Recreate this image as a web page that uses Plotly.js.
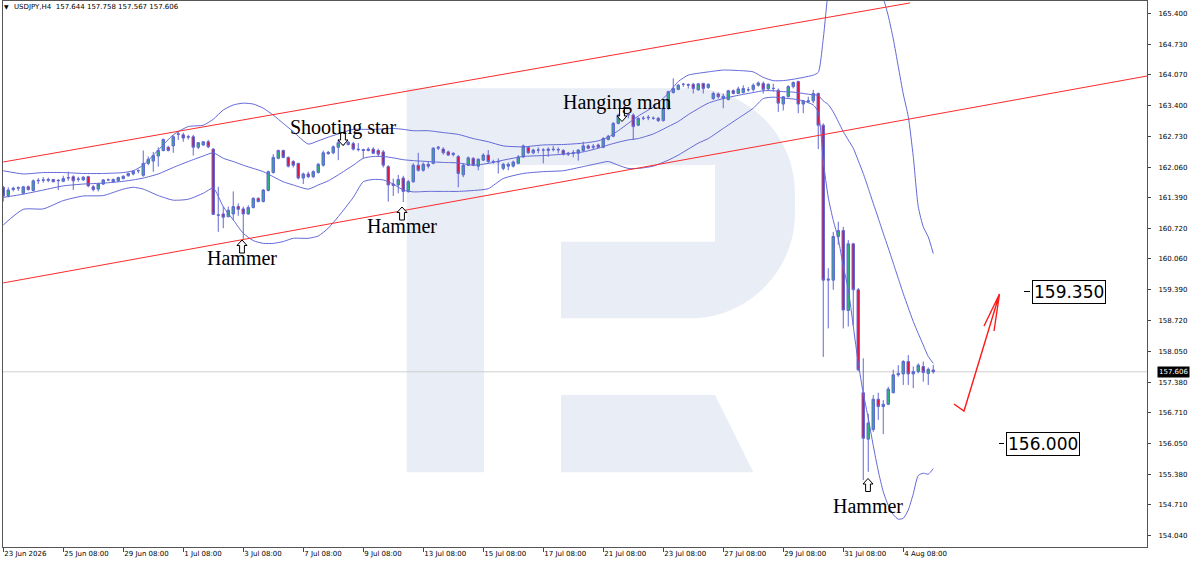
<!DOCTYPE html>
<html><head><meta charset="utf-8">
<script src="https://cdn.plot.ly/plotly-3.0.1.min.js"></script>
<style>html,body{margin:0;padding:0;background:#fff}#chart{width:1200px;height:561px}</style>
</head><body><div id="chart"></div>
<script>
// ---- data (USDJPY H4) ----
const symbolName = 'USDJPY,H4';
const opens = [
161.62,161.44,161.57,161.60,161.49,161.63,161.55,161.76,161.77,161.77,
161.79,161.76,161.75,161.82,161.85,161.79,161.78,161.85,161.63,161.58,
161.69,161.78,161.74,161.76,161.81,161.87,161.91,161.98,161.88,162.14,
162.19,162.30,162.42,162.49,162.52,162.77,162.76,162.71,162.72,162.49,
162.54,162.61,162.45,161.01,161.04,160.98,161.04,161.20,161.15,161.04,
161.18,161.38,161.31,161.55,161.94,162.25,162.42,162.27,162.18,162.14,
161.82,161.91,161.85,161.94,162.10,162.35,162.37,162.49,162.58,162.55,
162.57,162.45,162.44,162.42,162.45,162.42,162.39,162.07,161.69,161.67,
161.82,161.53,161.74,162.10,161.99,162.12,162.14,162.47,162.45,162.39,
162.33,162.29,161.89,162.10,162.25,162.08,162.21,162.32,162.18,162.17,
162.03,162.08,162.08,162.14,162.28,162.49,162.37,162.43,162.43,162.42,
162.45,162.43,162.42,162.34,162.36,162.36,162.42,162.52,162.49,162.54,
162.49,162.66,162.73,163.01,163.19,163.19,163.19,162.97,163.12,163.13,
163.12,163.12,163.07,163.34,163.68,163.75,163.86,163.84,163.86,163.74,
163.88,163.79,163.55,163.65,163.55,163.53,163.72,163.66,163.68,163.74,
163.75,163.84,163.88,163.76,163.77,163.73,163.43,163.59,163.81,163.92,
163.43,163.48,163.50,163.66,162.97,159.60,159.60,160.55,160.68,158.94,
160.39,159.39,157.15,156.14,156.35,157.01,156.85,156.90,157.15,157.54,
157.56,157.83,157.56,157.61,157.72,157.57,157.644];
const highs = [
161.65,161.62,161.63,161.64,161.65,161.66,161.79,161.82,161.84,161.83,
161.80,161.80,161.87,161.96,161.88,161.85,161.86,161.87,161.67,161.72,
161.80,161.81,161.81,161.85,161.88,161.94,161.99,162.01,162.42,162.29,
162.39,162.49,162.68,162.52,162.75,162.85,162.81,162.76,162.76,162.60,
162.62,162.65,162.47,161.63,161.20,161.20,161.53,161.27,161.20,161.23,
161.40,161.40,161.58,161.98,162.34,162.44,162.44,162.29,162.21,162.15,
161.94,161.96,161.99,162.15,162.42,162.41,162.53,162.66,162.72,162.62,
162.61,162.58,162.46,162.49,162.49,162.46,162.43,162.10,161.81,161.89,
161.87,161.78,162.14,162.37,162.16,162.18,162.49,162.52,162.49,162.42,
162.38,162.32,162.14,162.29,162.27,162.25,162.36,162.43,162.22,162.25,
162.15,162.16,162.20,162.32,162.55,162.51,162.46,162.49,162.47,162.49,
162.52,162.49,162.45,162.39,162.43,162.45,162.61,162.55,162.56,162.57,
162.71,162.76,163.04,163.22,163.30,163.23,163.23,163.14,163.17,163.19,
163.16,163.15,163.36,163.72,163.99,163.87,163.89,163.88,163.89,163.89,
163.89,163.88,163.70,163.68,163.66,163.74,163.75,163.81,163.84,163.80,
163.88,163.92,163.92,163.88,163.87,163.77,163.60,163.84,163.92,163.94,
163.52,163.59,163.74,163.68,163.01,159.86,160.65,160.87,160.76,160.47,
160.41,159.43,157.90,156.69,157.10,157.15,156.99,157.28,157.65,157.75,
157.86,157.97,157.72,157.79,157.83,157.70,157.758];
const lows = [
161.31,161.40,161.53,161.54,161.47,161.55,161.53,161.69,161.72,161.73,
161.73,161.56,161.73,161.76,161.56,161.74,161.76,161.62,161.53,161.53,
161.67,161.76,161.71,161.74,161.79,161.85,161.88,161.92,161.85,162.10,
161.96,162.07,162.40,162.40,162.37,162.65,162.61,162.66,162.31,162.45,
162.52,162.47,161.02,160.65,160.73,160.97,160.91,161.00,160.47,161.02,
161.16,161.29,161.29,161.53,161.92,162.23,162.25,162.05,162.05,161.79,
161.69,161.82,161.82,161.92,162.07,162.33,162.34,162.21,162.52,162.53,
162.42,162.40,162.25,162.40,162.34,162.29,162.05,161.31,161.43,161.49,
161.30,161.50,161.72,161.96,161.96,162.03,162.12,162.43,162.33,162.30,
162.29,161.62,161.84,162.08,162.08,161.99,162.19,162.14,162.13,161.92,
161.99,161.99,162.05,162.12,162.26,162.35,162.34,162.36,162.14,162.28,
162.40,162.36,162.31,162.30,162.27,162.20,162.39,162.45,162.44,162.47,
162.47,162.64,162.71,162.99,163.08,163.12,162.65,162.95,163.08,163.08,
163.09,163.04,163.05,163.30,163.66,163.73,163.80,163.77,163.66,163.72,
163.66,163.76,163.52,163.55,163.34,163.51,163.64,163.65,163.66,163.70,
163.70,163.81,163.66,163.72,163.70,163.26,163.29,163.57,163.77,163.23,
163.23,163.45,163.45,162.45,157.93,158.55,159.39,160.37,158.55,158.59,
158.62,157.62,155.25,155.43,156.30,156.56,156.25,156.88,157.14,157.50,
157.32,157.32,157.25,157.57,157.39,157.32,157.567];
const closes = [
161.43,161.56,161.60,161.61,161.63,161.57,161.76,161.77,161.78,161.79,
161.74,161.77,161.81,161.83,161.76,161.80,161.84,161.65,161.57,161.69,
161.78,161.78,161.79,161.83,161.86,161.92,161.97,161.98,162.14,162.23,
162.31,162.42,162.66,162.42,162.72,162.78,162.69,162.72,162.49,162.59,
162.61,162.50,161.03,161.02,160.97,161.12,161.20,161.14,161.04,161.18,
161.38,161.31,161.56,161.96,162.27,162.42,162.27,162.08,162.10,161.82,
161.91,161.85,161.96,162.12,162.37,162.38,162.50,162.59,162.55,162.60,
162.45,162.44,162.42,162.45,162.36,162.34,162.10,161.67,161.66,161.79,
161.53,161.74,162.10,161.99,162.12,162.08,162.47,162.49,162.37,162.32,
162.36,161.92,162.10,162.26,162.10,162.23,162.32,162.18,162.17,162.18,
162.12,162.12,162.17,162.28,162.52,162.37,162.43,162.43,162.43,162.45,
162.44,162.44,162.34,162.36,162.37,162.43,162.52,162.47,162.51,162.49,
162.68,162.73,163.01,163.19,163.16,163.20,162.94,163.12,163.12,163.14,
163.12,163.07,163.34,163.70,163.77,163.84,163.86,163.85,163.77,163.87,
163.77,163.86,163.66,163.59,163.60,163.72,163.66,163.76,163.77,163.74,
163.84,163.89,163.75,163.86,163.77,163.45,163.59,163.81,163.90,163.43,
163.50,163.50,163.66,162.97,159.60,159.62,160.55,160.68,158.95,160.39,
159.39,157.65,156.16,156.49,157.01,156.85,156.90,157.23,157.54,157.57,
157.83,157.56,157.61,157.75,157.59,157.66,157.606];

const bbIdx = [0,4,8,12,16,20,24,26,28,31,34,37,40,42,44,46,48,50,52,54,
56,58,61,63,65,67,70,72,74,76,78,80,82,85,88,91,94,97,100,104,
108,112,116,119,121,123,125,127,130,133,135,137,139,141,144,147,150,152,154,156,
158,160,162,163,164,165,166,167,168,169,170,171,172,173,174,175,176,177,178,179,
180,181,182,183,184,185,186];
const bbUpper = [161.98,161.91,161.94,161.94,161.92,161.92,161.94,161.98,162.10,162.43,
162.76,162.94,162.97,163.10,163.30,163.41,163.45,163.43,163.34,163.19,
163.01,162.83,162.56,162.63,162.71,162.78,162.88,162.88,162.88,162.89,
162.90,162.88,162.85,162.85,162.81,162.77,162.68,162.61,162.52,162.50,
162.54,162.55,162.58,162.63,162.71,162.85,163.01,163.17,163.37,163.66,
163.92,164.06,164.10,164.13,164.17,164.16,164.13,164.01,163.94,163.94,
163.97,164.01,164.06,164.12,164.85,165.90,166.50,166.95,167.25,167.45,
167.55,167.50,167.35,167.05,166.70,166.25,165.75,165.35,164.85,164.25,
163.65,163.16,162.29,161.20,160.76,160.54,160.18];
const bbMiddle = [161.40,161.47,161.56,161.65,161.69,161.71,161.75,161.78,161.82,161.91,
162.05,162.18,162.30,162.37,162.25,162.18,162.10,162.03,161.96,161.85,
161.74,161.67,161.58,161.67,161.76,161.89,162.10,162.25,162.29,162.29,
162.26,162.22,162.20,162.18,162.16,162.15,162.10,162.14,162.21,162.29,
162.31,162.34,162.39,162.47,162.54,162.60,162.65,162.68,162.78,162.94,
163.05,163.20,163.33,163.45,163.55,163.62,163.68,163.72,163.72,163.70,
163.69,163.66,163.63,163.62,163.50,163.42,163.26,163.05,162.83,162.65,
162.47,162.20,161.92,161.60,161.27,160.95,160.62,160.30,159.97,159.64,
159.31,159.00,158.70,158.44,158.19,157.94,157.79];
const bbLower = [160.80,161.14,161.15,161.33,161.43,161.44,161.58,161.62,161.58,161.44,
161.34,161.36,161.49,161.60,161.20,160.91,160.62,160.46,160.40,160.40,
160.44,160.51,160.51,160.56,160.73,160.98,161.40,161.74,161.79,161.78,
161.69,161.56,161.52,161.53,161.53,161.53,161.55,161.59,161.81,161.92,
161.96,161.98,162.07,162.14,162.18,162.10,162.03,162.03,162.08,162.21,
162.32,162.45,162.58,162.68,162.90,163.12,163.34,163.55,163.58,163.56,
163.54,163.50,163.41,163.26,162.20,161.40,160.90,160.50,159.90,159.40,
158.60,157.80,157.14,156.60,156.00,155.45,155.00,154.70,154.50,154.40,
154.42,154.60,154.95,155.35,155.40,155.38,155.50];

const tickBars = [0,12,24,36,48,60,72,84,96,108,120,132,144,156,168,180];
const tickLabels = ['23 Jun 2026','25 Jun 08:00','29 Jun 08:00','1 Jul 08:00','3 Jul 08:00',
'7 Jul 08:00','9 Jul 08:00','13 Jul 08:00','15 Jul 08:00','17 Jul 08:00','21 Jul 08:00',
'23 Jul 08:00','27 Jul 08:00','29 Jul 08:00','31 Jul 08:00','4 Aug 08:00'];
const priceTicks = [165.400,164.730,164.070,163.400,162.730,162.060,161.390,160.720,160.060,
159.390,158.720,158.050,157.380,156.710,156.050,155.380,154.710,154.040];

// channel lines [bar, price]
const channelUpper = [[0,162.17],[181.35,165.63]];
const channelLower = [[0,159.54],[228.75,164.04]];
// target levels
const levelLabels = ['159.350','156.000'];
const patternNames = ['Hammer','Shooting star','Hammer','Hanging man','Hammer'];

// ---- layout helpers (pixel -> paper) ----
const L0 = 3, T0 = 1, PW = 1144, PH = 546;
const px = X => (X - L0) / PW;
const py = Y => 1 - (Y - T0) / PH;
const P = (X, Y) => px(X).toFixed(5) + ',' + py(Y).toFixed(5);

const idx = opens.map((_, i) => i);
const lastI = opens.length - 1;
const bandColor = 'rgb(98,104,214)';
const serif = {family: 'Liberation Serif, Times New Roman, serif', size: 20, color: '#000'};

const traces = [
  {type: 'candlestick', x: idx, open: opens, high: highs, low: lows, close: closes,
   increasing: {line: {color: bandColor, width: 1}, fillcolor: '#2eb07a'},
   decreasing: {line: {color: bandColor, width: 1}, fillcolor: '#dc143c'},
   whiskerwidth: 0, hoverinfo: 'skip', showlegend: false},
  {type: 'scatter', mode: 'lines', x: bbIdx, y: bbUpper, line: {color: bandColor, width: 1, shape: 'spline', smoothing: 0.6}, hoverinfo: 'skip', showlegend: false},
  {type: 'scatter', mode: 'lines', x: bbIdx, y: bbMiddle, line: {color: bandColor, width: 1, shape: 'spline', smoothing: 0.6}, hoverinfo: 'skip', showlegend: false},
  {type: 'scatter', mode: 'lines', x: bbIdx, y: bbLower, line: {color: bandColor, width: 1, shape: 'spline', smoothing: 0.6}, hoverinfo: 'skip', showlegend: false}
];

// hollow block arrow (MT4 style) centred at (cx, cy), dir = -1 up, +1 down
function blockArrow(cx, cy, dir) {
  const pts = [[0,-6.5],[5,-1],[2.4,-1],[2.4,6.5],[-2.4,6.5],[-2.4,-1],[-5,-1]];
  const d = pts.map((p, k) => (k ? 'L' : 'M') + P(cx + p[0], cy + (dir < 0 ? p[1] : -p[1]))).join('') + 'Z';
  return {type: 'path', xref: 'paper', yref: 'paper', path: d, fillcolor: '#fff', line: {color: '#000', width: 1}};
}

const logoColor = '#e9edf5';
const shapes = [
  {type: 'path', xref: 'paper', yref: 'paper', layer: 'below', fillcolor: logoColor, line: {width: 0},
   path: 'M' + P(406.7,472.3) + 'L' + P(406.7,88.3) + 'L' + P(690,88.3) + 'C' + P(748,88.3) + ' ' + P(795,135.3) + ' ' + P(795,193.3) +
         'L' + P(795,213) + 'C' + P(795,271) + ' ' + P(748,318.3) + ' ' + P(690,318.3) + 'L' + P(561,318.3) + 'L' + P(561,241.7) +
         'L' + P(715,241.7) + 'L' + P(715,165) + 'L' + P(484,165) + 'L' + P(484,472.3) + 'Z'},
  {type: 'path', xref: 'paper', yref: 'paper', layer: 'below', fillcolor: logoColor, line: {width: 0},
   path: 'M' + P(561,395) + 'L' + P(715,395) + 'L' + P(753.3,472.3) + 'L' + P(561,472.3) + 'Z'},
  // bid line
  {type: 'line', xref: 'paper', yref: 'y', x0: 0, x1: 1, y0: closes[lastI], y1: closes[lastI], layer: 'below', line: {color: '#cfcfcf', width: 1}},
  // channel
  {type: 'line', xref: 'x', yref: 'y', x0: channelUpper[0][0], y0: channelUpper[0][1], x1: channelUpper[1][0], y1: channelUpper[1][1], line: {color: '#ff2a2a', width: 1}},
  {type: 'line', xref: 'x', yref: 'y', x0: channelLower[0][0], y0: channelLower[0][1], x1: channelLower[1][0], y1: channelLower[1][1], line: {color: '#ff2a2a', width: 1}},
  // forecast arrow
  {type: 'path', xref: 'paper', yref: 'paper', fillcolor: 'rgba(0,0,0,0)', line: {color: '#ff1a1a', width: 1.4},
   path: 'M' + P(954,404) + 'L' + P(964,411) + 'L' + P(999.5,294) + 'M' + P(984,326) + 'L' + P(999.5,294) + 'L' + P(994,331)},
  // level ticks
  {type: 'line', xref: 'paper', yref: 'paper', x0: px(1024), x1: px(1030), y0: py(291.5), y1: py(291.5), line: {color: '#000', width: 1}},
  {type: 'line', xref: 'paper', yref: 'paper', x0: px(999), x1: px(1004), y0: py(443.5), y1: py(443.5), line: {color: '#000', width: 1}},
  // pattern arrows
  blockArrow(242, 246.5, -1),
  blockArrow(343, 139, 1),
  blockArrow(402, 213.5, -1),
  blockArrow(622, 115, 1),
  blockArrow(868, 485, -1)
];

function txt(text, X, Y, font, extra) {
  return Object.assign({text: text, xref: 'paper', yref: 'paper', x: px(X), y: py(Y), xanchor: 'center', yanchor: 'middle', showarrow: false, font: font}, extra || {});
}
const annotations = [
  txt('<b>\u25BC</b>', 6, 7, {family: 'DejaVu Sans', size: 6, color: '#000'}),
  txt(symbolName + '  ' + opens[lastI].toFixed(3) + ' ' + highs[lastI].toFixed(3) + ' ' + lows[lastI].toFixed(3) + ' ' + closes[lastI].toFixed(3),
      12, 7, {family: 'DejaVu Sans', size: 7, color: '#000'}, {xanchor: 'left'}),
  txt(patternNames[0], 242, 258, serif),
  txt(patternNames[1], 343, 127, serif),
  txt(patternNames[2], 402, 226, serif),
  txt(patternNames[3], 617, 102, serif),
  txt(patternNames[4], 868, 506, serif),
  txt(levelLabels[0], 1068.5, 292, {family: 'DejaVu Sans', size: 17, color: '#000'}, {bgcolor: '#fff', bordercolor: '#000', borderwidth: 1, borderpad: 1}),
  txt(levelLabels[1], 1042.5, 443.5, {family: 'DejaVu Sans', size: 17, color: '#000'}, {bgcolor: '#fff', bordercolor: '#000', borderwidth: 1, borderpad: 1}),
  {text: closes[lastI].toFixed(3), xref: 'paper', yref: 'y', x: 1, y: closes[lastI], xanchor: 'left', yanchor: 'middle', xshift: 10,
   showarrow: false, bgcolor: '#000', font: {family: 'DejaVu Sans', size: 7, color: '#fff'}, borderpad: 1}
];

const axisFont = {family: 'DejaVu Sans', size: 7, color: '#000'};
const layout = {
  width: 1200, height: 561,
  margin: {l: L0, r: 1200 - L0 - PW, t: T0, b: 561 - T0 - PH, pad: 0},
  paper_bgcolor: '#fff', plot_bgcolor: 'rgba(0,0,0,0)',
  showlegend: false, dragmode: false,
  xaxis: {range: [-0.05, 228.75], tickmode: 'array', tickvals: tickBars, ticktext: tickLabels,
          ticks: 'outside', ticklen: 4, tickcolor: '#444', tickfont: axisFont, ticklabelposition: 'outside right',
          showline: true, mirror: true, linecolor: '#555', linewidth: 1, showgrid: false, zeroline: false,
          rangeslider: {visible: false}, automargin: false, fixedrange: true},
  yaxis: {side: 'right', range: [153.795, 165.672], tickmode: 'array', tickvals: priceTicks,
          ticktext: priceTicks.map(v => v.toFixed(3)), ticks: 'outside', ticklen: 3, tickcolor: '#444',
          ticklabelstandoff: 6,
          tickfont: axisFont, showline: true, mirror: true, linecolor: '#555', linewidth: 1,
          showgrid: false, zeroline: false, automargin: false, fixedrange: true},
  shapes: shapes,
  annotations: annotations
};
Plotly.newPlot('chart', traces, layout, {displayModeBar: false, staticPlot: true});
</script>
</body></html>
